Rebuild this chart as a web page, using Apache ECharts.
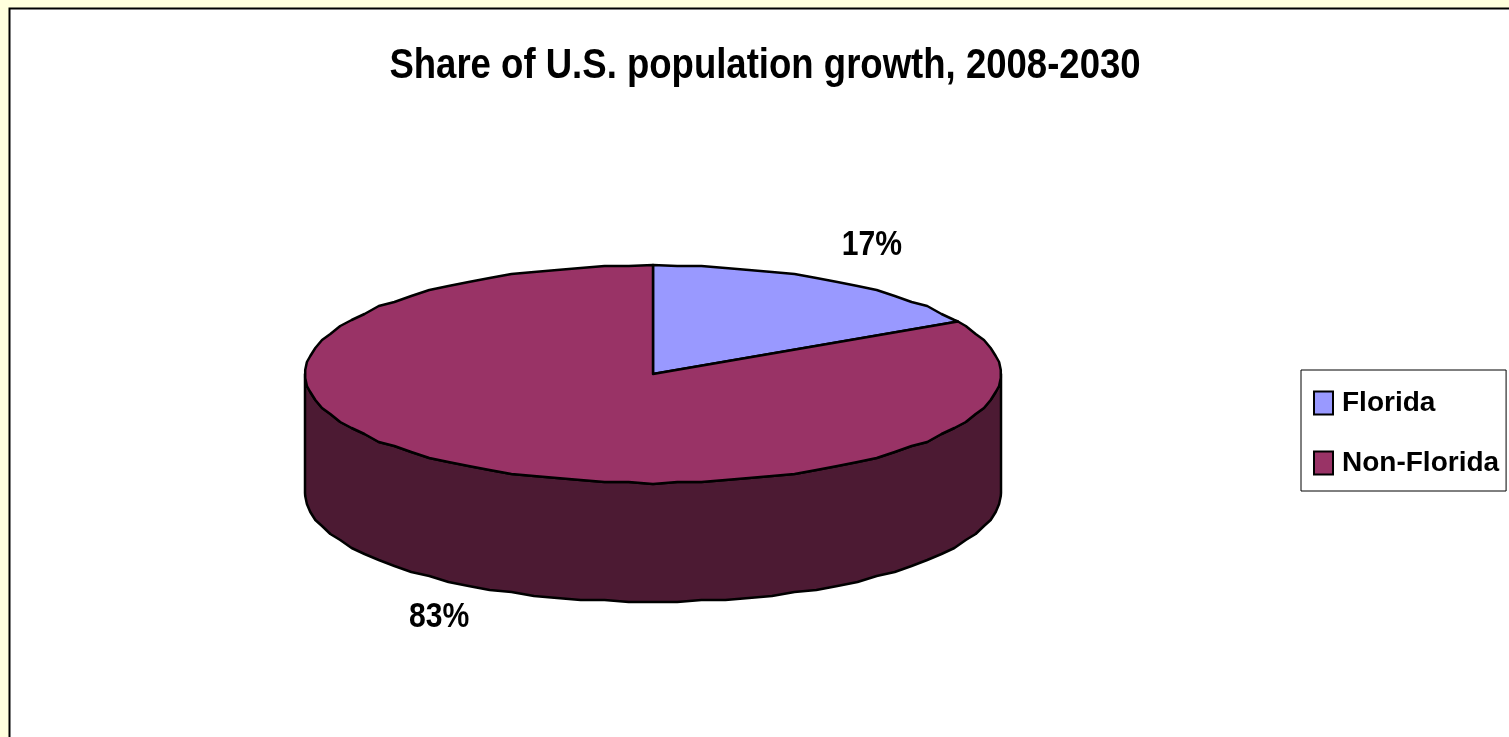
<!DOCTYPE html>
<html>
<head>
<meta charset="utf-8">
<style>
html, body { margin: 0; padding: 0; background: #ffffdd; overflow: hidden; }
#chart { width: 1509px; height: 737px; }
</style>
<script src="https://cdn.jsdelivr.net/npm/echarts@6/dist/echarts.min.js"></script>
</head>
<body>
<div id="chart"></div>
<script>
const categories = [ 'Florida', 'Non-Florida' ];
const shares = [ 17, 83 ];
const topColors = [ '#9999ff', '#993366' ];
const wallColors = [ '#4c4c80', '#4c1a33' ];

const CX = 653, CY = 374, RX = 348, RY = 109, DEPTH = 119;
const FONT = '"Liberation Sans", Arial, sans-serif';
// how far each label sits outside the rim, horizontally and vertically
const LABEL_GAPS = [ [ 82, 40 ], [ 72, 35 ] ];
const FACET = 4 * Math.PI / 180;
const total = shares.reduce( ( a, b ) => a + b, 0 );

// angle is in radians, clockwise from the top of the ellipse
const rimPoint = ( angle, drop ) => [
	CX + RX * Math.sin( angle ),
	CY - RY * Math.cos( angle ) + drop
];

// The rim of the original is a coarse faceted polyline, so it is sampled at a
// wide fixed angle with y rounded to a small grid. Arc ends stay exact.
const arcPoints = ( from, to, drop ) => {
	const points = [ rimPoint( from, drop ) ];
	for ( let k = Math.floor( from / FACET ) + 1; k * FACET < to - 1e-6; k++ ) {
		const [ x, y ] = rimPoint( k * FACET, drop );
		points.push( [ x, Math.round( y / 2 ) * 2 ] );
	}
	points.push( rimPoint( to, drop ) );
	return points;
};

const sliceAngles = ( index ) => {
	const before = shares.slice( 0, index ).reduce( ( a, b ) => a + b, 0 );
	return [ before / total * 2 * Math.PI, ( before + shares[ index ] ) / total * 2 * Math.PI ];
};

const lineStyle = ( fill ) => ( { fill, stroke: '#000', lineWidth: 2.5, lineJoin: 'round' } );

const renderWall = ( index ) => () => {
	const [ start, end ] = sliceAngles( index );
	const from = Math.max( start, Math.PI / 2 );
	const to = Math.min( end, Math.PI * 3 / 2 );
	if ( from >= to ) {
		return { type: 'group', children: [] };
	}
	return {
		type: 'polygon',
		shape: { points: arcPoints( from, to, 0 ).concat( arcPoints( from, to, DEPTH ).reverse() ) },
		style: lineStyle( wallColors[ index ] )
	};
};

const renderTop = ( index ) => () => {
	const [ start, end ] = sliceAngles( index );
	const mid = ( start + end ) / 2;
	const isLower = Math.cos( mid ) < 0;
	const [ gapX, gapY ] = LABEL_GAPS[ index ];
	return {
		type: 'group',
		children: [
			{
				type: 'polygon',
				shape: { points: [ [ CX, CY ] ].concat( arcPoints( start, end, 0 ) ) },
				style: lineStyle( topColors[ index ] )
			},
			{
				type: 'text',
				x: CX + ( RX + gapX ) * Math.sin( mid ),
				y: CY - ( RY + gapY ) * Math.cos( mid ) + ( isLower ? DEPTH : 0 ),
				scaleX: 0.86,
				style: {
					text: shares[ index ] + '%',
					font: 'bold 35px ' + FONT,
					fill: '#000',
					align: 'center',
					verticalAlign: 'middle'
				}
			}
		]
	};
};

const chart = echarts.init( document.getElementById( 'chart' ), null, { renderer: 'canvas' } );

chart.setOption( {
	animation: false,
	backgroundColor: '#ffffdd',
	legend: {
		data: categories,
		orient: 'vertical',
		left: 1301,
		top: 370,
		padding: [ 19, 7, 14, 12 ],
		itemGap: 32,
		itemWidth: 19,
		itemHeight: 23,
		icon: 'rect',
		backgroundColor: '#fff',
		borderColor: '#000',
		borderWidth: 1,
		selectedMode: false,
		itemStyle: { borderColor: '#000', borderWidth: 2 },
		textStyle: { fontFamily: FONT, fontWeight: 'bold', fontSize: 28, color: '#000', padding: [ 0, 0, 0, 4 ] }
	},
	graphic: [
		{
			type: 'rect',
			z: -10,
			silent: true,
			shape: { x: 9.5, y: 8.5, width: 1600, height: 800 },
			style: { fill: '#fff', stroke: '#000', lineWidth: 2 }
		},
		{
			type: 'text',
			x: 765,
			y: 66,
			scaleX: 0.87,
			silent: true,
			style: {
				text: 'Share of U.S. population growth, 2008-2030',
				font: 'bold 42px ' + FONT,
				fill: '#000',
				align: 'center',
				verticalAlign: 'middle'
			}
		}
	],
	series: categories.map( ( name, index ) => [
		{
			type: 'custom',
			name,
			coordinateSystem: 'none',
			z: 2,
			itemStyle: { color: topColors[ index ] },
			renderItem: renderWall( index ),
			data: [ shares[ index ] ]
		},
		{
			type: 'custom',
			name,
			coordinateSystem: 'none',
			z: 3,
			itemStyle: { color: topColors[ index ] },
			renderItem: renderTop( index ),
			data: [ shares[ index ] ]
		}
	] ).flat()
} );
</script>
</body>
</html>
